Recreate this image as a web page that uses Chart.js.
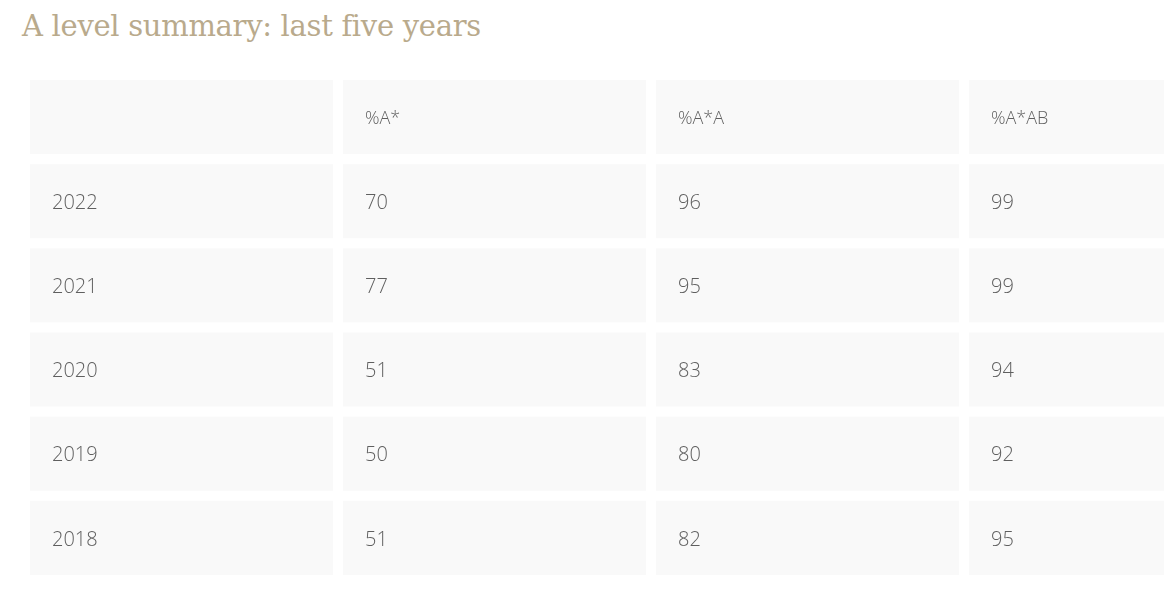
<!DOCTYPE html>
<html>
<head>
<meta charset="utf-8">
<script src="https://cdn.jsdelivr.net/npm/chart.js@4"></script>
<style>
  html, body { margin: 0; padding: 0; background: #fff; }
  h1 { position: absolute; left: 22px; top: 9px; margin: 0; font: 400 29px "DejaVu Serif", "Liberation Serif", serif; color: #b9aa8c; letter-spacing: -0.3px; }
  #wrap { position: absolute; left: 0; top: 0; width: 1164px; height: 600px; }
</style>
</head>
<body>
<h1>A level summary: last five years</h1>
<div id="wrap"><canvas id="table"></canvas></div>
<script>
// Table data
const columnHeads = ['', '%A*', '%A*A', '%A*AB'];
const years = ['2022', '2021', '2020', '2019', '2018'];
const pctAStar = [70, 77, 51, 50, 51];
const pctAStarA = [96, 95, 83, 80, 82];
const pctAStarAB = [99, 99, 94, 92, 95];

// Build cell list: header row + one row per year
const rows = [columnHeads].concat(years.map((y, i) => [y, pctAStar[i], pctAStarA[i], pctAStarAB[i]]));
const cells = [];
rows.forEach((r, ri) => r.forEach((v, ci) => cells.push({ x: ci, y: ri, text: String(v), head: ri === 0 })));

const cellPlugin = {
  id: 'cells',
  beforeDatasetsDraw(chart) {
    const { ctx, scales: { x, y } } = chart;
    ctx.save();
    cells.forEach(c => {
      const x0 = x.getPixelForValue(c.x), x1 = x.getPixelForValue(c.x + 0.968);
      const y0 = y.getPixelForValue(c.y), y1 = y.getPixelForValue(c.y + 0.88);
      ctx.fillStyle = '#f9f9f9';
      ctx.fillRect(x0, y0, x1 - x0, y1 - y0);
      ctx.fillStyle = '#5f5f5f';
      ctx.font = (c.head ? '300 18px' : '300 20px') + ' "Open Sans", sans-serif';
      ctx.textBaseline = 'middle';
      ctx.fillText(c.text, x0 + 22, (y0 + y1) / 2 + 2);
    });
    ctx.restore();
  }
};

new Chart(document.getElementById('table'), {
  type: 'scatter',
  data: { datasets: [{ data: cells.map(c => ({ x: c.x + 0.5, y: c.y + 0.5 })), pointRadius: 0 }] },
  options: {
    responsive: true,
    maintainAspectRatio: false,
    animation: false,
    layout: { padding: { left: 30, right: 0, top: 80, bottom: 15 } },
    plugins: { legend: { display: false }, tooltip: { enabled: false } },
    scales: {
      x: { type: 'linear', min: 0, max: 3.623, display: false },
      y: { type: 'linear', min: 0, max: 6, reverse: true, display: false }
    }
  },
  plugins: [cellPlugin]
});
</script>
</body>
</html>
